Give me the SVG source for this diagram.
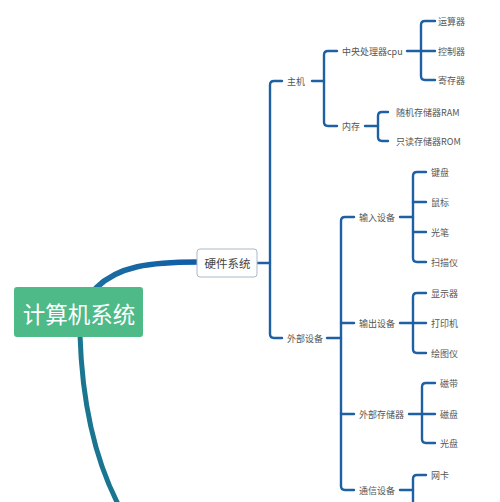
<svg xmlns="http://www.w3.org/2000/svg" width="500" height="502" viewBox="0 0 500 502">
<style>
.ln{fill:none;stroke:#1f60a4;stroke-width:2.4;stroke-linecap:round;stroke-linejoin:round}
.t{font-family:"Noto Sans CJK SC","Noto Sans",sans-serif;font-size:9px;fill:#555;dominant-baseline:central}
</style>
<defs>
<linearGradient id="g1" x1="0" y1="0" x2="1" y2="0">
<stop offset="0" stop-color="#1b6fa0"/><stop offset="1" stop-color="#0f5ca8"/>
</linearGradient>
</defs>
<rect width="500" height="502" fill="#fff"/>
<g id="connectors">
<path d="M96 288 C118 266 150 262 198 262" fill="none" stroke="url(#g1)" stroke-width="5.5" stroke-linecap="round"/>
<path d="M80 335 C82 400 94 458 119 506" fill="none" stroke="#1a7590" stroke-width="5"/>
<path class="ln" d="M257 263 H270"/>
<path class="ln" d="M282 81 H274 Q270 81 270 85 V334 Q270 338 274 338 H282"/>
<path class="ln" d="M312 81 H324"/>
<path class="ln" d="M337 51 H328 Q324 51 324 55 V122 Q324 126 328 126 H337"/>
<path class="ln" d="M407 51 H435"/>
<path class="ln" d="M435 21 H425 Q421 21 421 25 V76 Q421 80 425 80 H435"/>
<path class="ln" d="M365 126 H378"/>
<path class="ln" d="M388 112 H382 Q378 112 378 116 V137 Q378 141 382 141 H388"/>
<path class="ln" d="M327 338 H341"/>
<path class="ln" d="M354 217 H345 Q341 217 341 221 V486 Q341 490 345 490 H354"/>
<path class="ln" d="M341 323 H354"/>
<path class="ln" d="M341 414 H354"/>
<path class="ln" d="M400 217 H413"/>
<path class="ln" d="M426 172 H417 Q413 172 413 176 V258 Q413 262 417 262 H426"/>
<path class="ln" d="M413 202 H426"/>
<path class="ln" d="M413 232 H426"/>
<path class="ln" d="M400 323 H426"/>
<path class="ln" d="M426 293 H417 Q413 293 413 297 V349 Q413 353 417 353 H426"/>
<path class="ln" d="M409 414 H435"/>
<path class="ln" d="M435 383 H426 Q422 383 422 387 V439 Q422 443 426 443 H435"/>
<path class="ln" d="M400 490 H413"/>
<path class="ln" d="M426 475 H417 Q413 475 413 479 V530"/>
<path class="ln" d="M413 505 H426"/>
</g>
<g id="root">
<rect x="14" y="287" width="129" height="50" rx="3" fill="#4dba88"/>
<text x="79" y="313" text-anchor="middle" font-family="Noto Sans CJK SC,sans-serif" font-size="22.5" fill="#fff" dominant-baseline="central">计算机系统</text>
</g>
<g id="hardware">
<rect x="197" y="249" width="60" height="28" rx="3" fill="#fff" stroke="#a9b9c9" stroke-width="1"/>
<text x="227.5" y="263" text-anchor="middle" font-family="Noto Sans CJK SC,sans-serif" font-size="11.5" fill="#444" dominant-baseline="central">硬件系统</text>
</g>
<g id="host"><text class="t" x="287" y="81">主机</text></g>
<g id="cpu"><text class="t" x="342" y="51">中央处理器cpu</text></g>
<g id="alu"><text class="t" x="438" y="21">运算器</text></g>
<g id="ctrl"><text class="t" x="438" y="51">控制器</text></g>
<g id="reg"><text class="t" x="438" y="80">寄存器</text></g>
<g id="mem"><text class="t" x="342" y="126">内存</text></g>
<g id="ram"><text class="t" x="396" y="112">随机存储器RAM</text></g>
<g id="rom"><text class="t" x="396" y="141">只读存储器ROM</text></g>
<g id="peripheral"><text class="t" x="287" y="338">外部设备</text></g>
<g id="input"><text class="t" x="359" y="217">输入设备</text></g>
<g id="kbd"><text class="t" x="431" y="172">键盘</text></g>
<g id="mouse"><text class="t" x="431" y="202">鼠标</text></g>
<g id="pen"><text class="t" x="431" y="232">光笔</text></g>
<g id="scanner"><text class="t" x="431" y="262">扫描仪</text></g>
<g id="output"><text class="t" x="359" y="323">输出设备</text></g>
<g id="display"><text class="t" x="431" y="293">显示器</text></g>
<g id="printer"><text class="t" x="431" y="323">打印机</text></g>
<g id="plotter"><text class="t" x="431" y="353">绘图仪</text></g>
<g id="storage"><text class="t" x="359" y="414">外部存储器</text></g>
<g id="tape"><text class="t" x="440" y="383">磁带</text></g>
<g id="disk"><text class="t" x="440" y="414">磁盘</text></g>
<g id="cd"><text class="t" x="440" y="443">光盘</text></g>
<g id="comm"><text class="t" x="359" y="490">通信设备</text></g>
<g id="nic"><text class="t" x="431" y="475">网卡</text></g>
<g id="modem"><text class="t" x="431" y="506">调制解调器</text></g>
</svg>
